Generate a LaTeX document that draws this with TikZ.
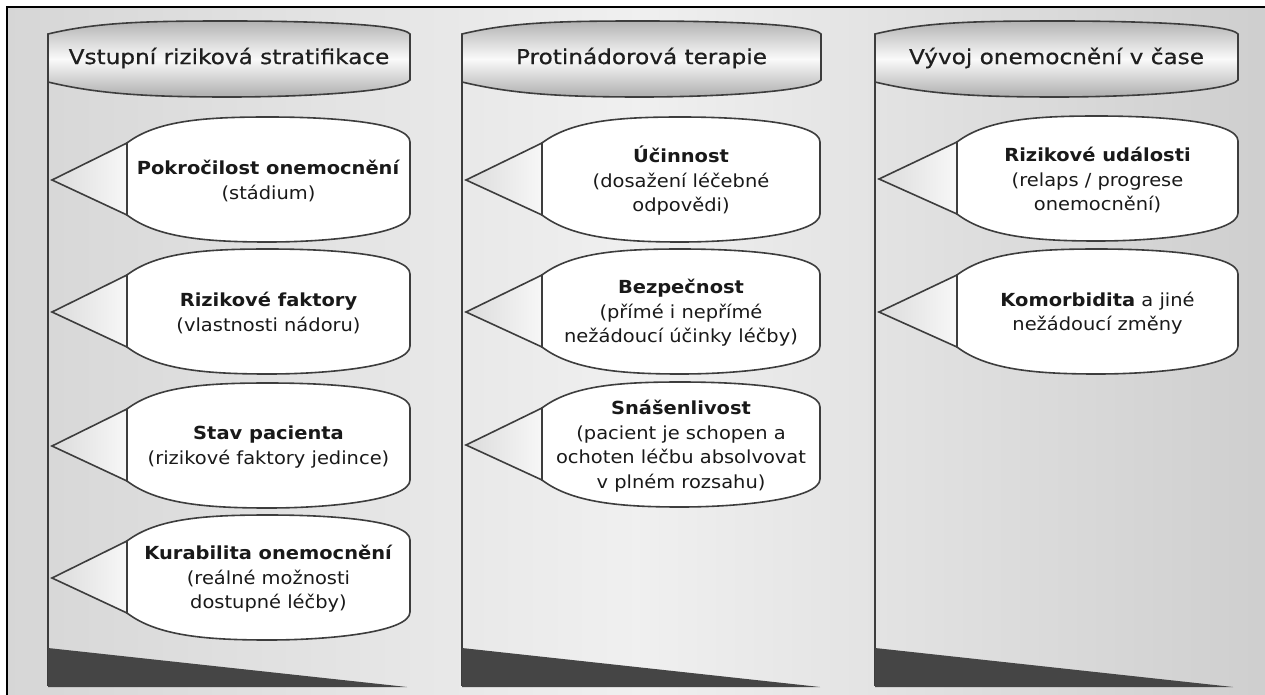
\documentclass[tikz,border=0pt]{standalone}
\usepackage{fontspec}
\newfontfamily\bodyfnt[FakeStretch=1.08]{DejaVu Sans}
\newfontfamily\hdrfnt[FakeStretch=1.13,FakeBold=0.6]{DejaVu Sans}
\tikzset{
  outl/.style={draw=black!76, line width=1.6pt},
  hdrshade/.style={outl, top color=black!30, bottom color=black!32, middle color=black!2},
  trishade/.style={outl, left color=black!14, right color=black!3},
  bodyshape/.style={outl, fill=white},
  vline/.style={draw=black!76, line width=2pt},
  wedge/.style={fill=black!73},
  btxt/.style={font=\bodyfnt\fontsize{18}{24.5}\selectfont, align=center, text=black!90, inner sep=0pt},
  htxt/.style={font=\hdrfnt\fontsize{20.5}{24}\selectfont, text=black!88, inner sep=0pt},
}
% header: #1 left x, #2 right x, #3 name, #4 text
\newcommand{\hdrbox}[4]{%
  \shadedraw[hdrshade] (#1,34) .. controls ({#1+50},22) and ({#1+100},21) .. ({(#1+#2)/2},21)
     .. controls ({#2-100},21) and ({#2-8},24) .. (#2,34) -- (#2,80)
     .. controls ({#2-8},91) and ({#2-100},97) .. ({(#1+#2)/2},97)
     .. controls ({#1+100},97) and ({#1+50},94) .. (#1,82) -- cycle;
  \node[htxt] (#3) at ({(#1+#2)/2},58) {#4};
}
% callout: #1 line x, #2 body left x, #3 body right x, #4 centre y, #5 name, #6 text
\newcommand{\citem}[6]{%
  \draw[bodyshape] (#2,{#4-37}) .. controls ({#2+30},{#4-60}) and ({#2+80},{#4-63}) .. ({(#2+#3)/2},{#4-63})
     .. controls ({#3-80},{#4-63}) and (#3,{#4-58}) .. (#3,{#4-38}) -- (#3,{#4+34})
     .. controls (#3,{#4+54}) and ({#3-80},{#4+62}) .. ({(#2+#3)/2},{#4+62})
     .. controls ({#2+80},{#4+62}) and ({#2+30},{#4+58}) .. (#2,{#4+35}) -- cycle;
  \shadedraw[trishade, line join=miter] ({#1+4},#4) -- (#2,{#4-37}) -- (#2,{#4+35}) -- cycle;
  \node[btxt] (#5) at ({(#2+#3)/2},{#4+1}) {#6};
}
\begin{document}
\begin{tikzpicture}[x=1pt,y=-1pt]
\useasboundingbox (0,0) rectangle (1265,695);
\fill[white] (0,0) rectangle (1265,695);
\shade[left color=black!16, right color=black!19, middle color=black!6] (7,7) rectangle (1265,695);
\coordinate (fa) at (7,695);
\coordinate (fb) at (7,7);
\coordinate (fc) at (1265,7);
\draw[black, line width=1.5pt] (fa) -- (fb) -- (fc);

% column lines
\coordinate (l1t) at (48,40); \coordinate (l1b) at (48,686);
\coordinate (l2t) at (462,40); \coordinate (l2b) at (462,686);
\coordinate (l3t) at (875,40); \coordinate (l3b) at (875,686);
\draw[vline] (l1t) -- (l1b);
\draw[vline] (l2t) -- (l2b);
\draw[vline] (l3t) -- (l3b);

% bottom wedges
\fill[wedge] (48,648) -- (407,687) -- (48,687) -- cycle;
\fill[wedge] (462,648) -- (820,687) -- (462,687) -- cycle;
\fill[wedge] (875,648) -- (1233,687) -- (875,687) -- cycle;

% headers
\hdrbox{48}{410}{h1}{Vstupní riziková stratifikace}
\hdrbox{462}{821}{h2}{Protinádorová terapie}
\hdrbox{875}{1238}{h3}{Vývoj onemocnění v čase}

% column 1
\citem{48}{127}{410}{180}{a1}{\textbf{Pokročilost onemocnění}\\(stádium)}
\citem{48}{127}{410}{312}{a2}{\textbf{Rizikové faktory}\\(vlastnosti nádoru)}
\citem{48}{127}{410}{446}{a3}{\textbf{Stav pacienta}\\(rizikové faktory jedince)}
\citem{48}{127}{410}{578}{a4}{\textbf{Kurabilita onemocnění}\\(reálné možnosti\\dostupné léčby)}

% column 2
\citem{462}{542}{820}{180}{b1}{\textbf{Účinnost}\\(dosažení léčebné\\odpovědi)}
\citem{462}{542}{820}{312}{b2}{\textbf{Bezpečnost}\\(přímé i nepřímé\\nežádoucí účinky léčby)}
\citem{462}{542}{820}{445}{b3}{\textbf{Snášenlivost}\\(pacient je schopen a\\ochoten léčbu absolvovat\\v plném rozsahu)}

% column 3
\citem{875}{957}{1238}{179}{c1}{\textbf{Rizikové události}\\(relaps / progrese\\onemocnění)}
\citem{875}{957}{1238}{312}{c2}{\textbf{Komorbidita} a jiné\\nežádoucí změny}
\end{tikzpicture}
\end{document}
